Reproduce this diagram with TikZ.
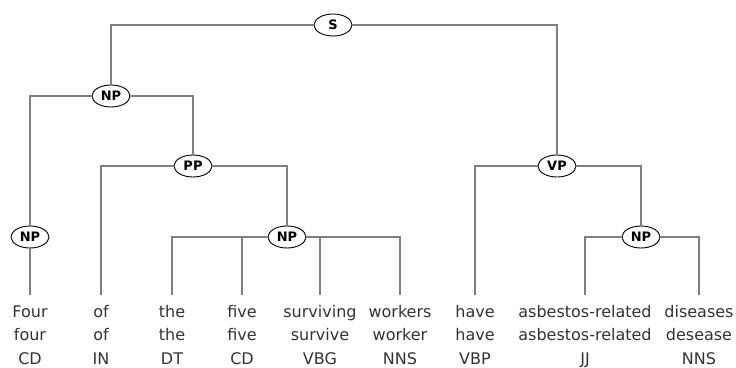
\documentclass[tikz,border=0pt]{standalone}
\usepackage{fontspec}
\setmainfont{DejaVu Sans}
\usetikzlibrary{shapes.geometric}
\definecolor{edgegray}{HTML}{808080}
\definecolor{wordgray}{HTML}{333333}
\tikzset{
  phrase/.style={ellipse, draw=black, line width=0.9pt, fill=white,
    minimum width=38pt, minimum height=22pt, inner sep=1pt,
    font=\fontsize{13pt}{13pt}\selectfont\bfseries},
  word/.style={anchor=base, text=wordgray, inner ysep=10pt,
    text height=12pt, text depth=4pt,
    font=\fontsize{16pt}{16pt}\selectfont},
  gloss/.style={anchor=base, text=wordgray, inner sep=0pt,
    font=\fontsize{16pt}{16pt}\selectfont},
  branch/.style={draw=edgegray, line width=1.7pt}
}
\begin{document}
\begin{tikzpicture}[x=1pt, y=-1pt]
\useasboundingbox (0,0) rectangle (736,367);

% phrase nodes
\node[phrase] (S)   at (333,25)  {S};
\node[phrase] (NPa) at (111,96)  {NP};
\node[phrase] (PP)  at (193,166) {PP};
\node[phrase] (NPb) at (30,237)  {NP};
\node[phrase] (NPc) at (287,237) {NP};
\node[phrase] (VP)  at (557,166) {VP};
\node[phrase] (NPd) at (641,237) {NP};

% words, lemmas and tags
\foreach \n/\x/\w/\l/\t in {1/30/Four/four/CD, 2/101/of/of/IN, 3/172/the/the/DT,
    4/242/five/five/CD, 5/320/surviving/survive/VBG, 6/400/workers/worker/NNS,
    7/475/have/have/VBP, 8/585/asbestos-related/asbestos-related/JJ,
    9/699/diseases/desease/NNS} {
  \node[word]  (w\n) at (\x,317) {\w};
  \node[gloss] (l\n) at (\x,340) {\l};
  \node[gloss] (t\n) at (\x,364) {\t};
}

% branches
\draw[branch] (S) -| (NPa);
\draw[branch] (S) -| (VP);
\draw[branch] (NPa) -| (NPb);
\draw[branch] (NPa) -| (PP);
\draw[branch] (NPb) -- (w1);
\draw[branch] (PP) -| (w2);
\draw[branch] (PP) -| (NPc);
\draw[branch] (NPc) -| (w3);
\draw[branch] (NPc) -| (w4);
\draw[branch] (NPc) -| (w5);
\draw[branch] (NPc) -| (w6);
\draw[branch] (VP) -| (w7);
\draw[branch] (VP) -| (NPd);
\draw[branch] (NPd) -| (w8);
\draw[branch] (NPd) -| (w9);
\end{tikzpicture}
\end{document}
